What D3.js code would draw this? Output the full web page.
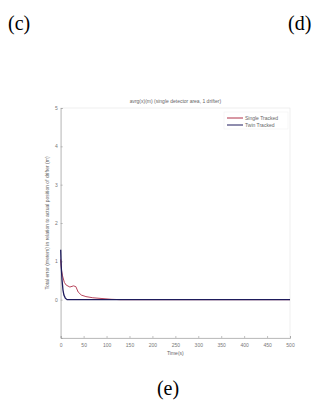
<!DOCTYPE html>
<html>
<head>
<meta charset="utf-8">
<script src="https://cdn.jsdelivr.net/npm/d3@7"></script>
<style>
  body { margin: 0; background: #fff; }
  svg { display: block; }
  .axis text { fill: #777; font-size: 5px; font-family: Arial, sans-serif; }
  .axis path, .axis line { stroke: #999; stroke-width: 0.6; }
  .small { fill: #666; font-size: 5px; font-family: Arial, sans-serif; }
  .cap { fill: #000; font-size: 20px; font-family: "Liberation Serif", "DejaVu Serif", serif; }
</style>
</head>
<body>
<svg id="chart" width="320" height="403"></svg>
<script>
// series data (time in s, error)
const redTime = [0, 2, 4, 8, 12, 20, 28, 33, 38, 45, 55, 70, 90, 110, 130, 500];
const redVal = [1.05, 0.75, 0.62, 0.45, 0.38, 0.33, 0.36, 0.34, 0.2, 0.12, 0.08, 0.05, 0.03, 0.01, 0, 0];
const blueTime = [0, 1, 3, 5, 7, 10, 14, 500];
const blueVal = [1.3, 0.9, 0.5, 0.25, 0.12, 0.04, 0, 0];
const xTicks = [0, 50, 100, 150, 200, 250, 300, 350, 400, 450, 500];
const yTicks = [0, 1, 2, 3, 4, 5];
const legendNames = ['Single Tracked', 'Twin Tracked'];
const colors = ['#b03048', '#1e1b5c'];

const svg = d3.select('#chart');

const plotL = 60.7, plotR = 290, plotT = 108, plotB = 338;

const x = d3.scaleLinear().domain([0, 500]).range([plotL, plotR]);
const y = d3.scaleLinear().domain([-1, 5]).range([plotB, plotT]);

// frame
svg.append('rect')
  .attr('x', plotL).attr('y', plotT)
  .attr('width', plotR - plotL).attr('height', plotB - plotT)
  .attr('fill', 'none').attr('stroke', '#e4e4e4').attr('stroke-width', 0.6);

svg.append('g')
  .attr('class', 'axis')
  .attr('transform', `translate(0,${plotB})`)
  .call(d3.axisBottom(x).tickValues(xTicks).tickSize(-2).tickPadding(5).tickFormat(d3.format('d')))
  .call(g => g.select('.domain').attr('stroke', '#ddd'));

svg.append('g')
  .attr('class', 'axis')
  .attr('transform', `translate(${plotL},0)`)
  .call(d3.axisLeft(y).tickValues(yTicks).tickSize(-2).tickPadding(3).tickFormat(d3.format('d')))
  .call(g => g.select('.domain').attr('stroke', '#666').attr('stroke-width', 1));

// lines
const line = d3.line().x(d => x(d[0])).y(d => y(d[1]));

svg.append('path')
  .datum(redTime.map((t, i) => [t, redVal[i]]))
  .attr('d', line)
  .attr('fill', 'none')
  .attr('stroke', colors[0])
  .attr('stroke-width', 0.9);

svg.append('path')
  .datum(blueTime.map((t, i) => [t, blueVal[i]]))
  .attr('d', line)
  .attr('fill', 'none')
  .attr('stroke', colors[1])
  .attr('stroke-width', 1.3);

// title & labels
svg.append('text')
  .attr('class', 'small')
  .attr('x', (plotL + plotR) / 2).attr('y', 103)
  .attr('text-anchor', 'middle')
  .attr('fill', '#555')
  .text('avrg(x)(m) (single detector area, 1 drifter)');

svg.append('text')
  .attr('class', 'small')
  .attr('x', (plotL + plotR) / 2).attr('y', 355)
  .attr('text-anchor', 'middle')
  .text('Time(s)');

svg.append('text')
  .attr('class', 'small')
  .attr('transform', `translate(49,${223}) rotate(-90)`)
  .attr('text-anchor', 'middle')
  .text('Total error (meters) in relation to actual position of drifter (m)');

// legend
const lg = svg.append('g');
lg.append('rect')
  .attr('x', 224).attr('y', 112).attr('width', 64).attr('height', 17)
  .attr('fill', '#fff').attr('stroke', '#eee').attr('stroke-width', 0.5);
legendNames.forEach((name, i) => {
  const ly = 118 + i * 7;
  lg.append('line')
    .attr('x1', 227).attr('x2', 243)
    .attr('y1', ly).attr('y2', ly)
    .attr('stroke', colors[i]).attr('stroke-width', 1);
  lg.append('text')
    .attr('class', 'small')
    .attr('x', 245).attr('y', ly + 1.7)
    .text(name);
});

// panel captions
svg.append('text').attr('class', 'cap').attr('x', 8).attr('y', 30).text('(c)');
svg.append('text').attr('class', 'cap').attr('x', 288).attr('y', 30).text('(d)');
svg.append('text').attr('class', 'cap').attr('x', 168).attr('y', 395)
  .attr('text-anchor', 'middle').text('(e)');
</script>
</body>
</html>
